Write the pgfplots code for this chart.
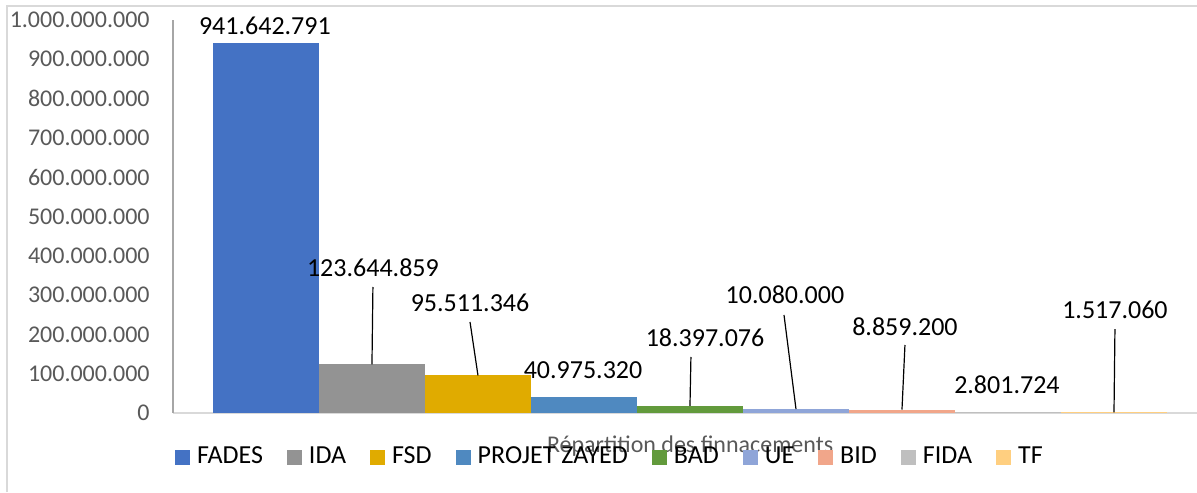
\documentclass[border=0pt]{standalone}
\usepackage{fontspec}
\setmainfont{Carlito}
\usepackage{pgfplots}
\pgfplotsset{compat=1.18}

\definecolor{cFADES}{HTML}{4472C4}
\definecolor{cIDA}{HTML}{939393}
\definecolor{cFSD}{HTML}{E0AB00}
\definecolor{cPZ}{HTML}{4F89C0}
\definecolor{cBAD}{HTML}{629A3C}
\definecolor{cUE}{HTML}{8FA5D8}
\definecolor{cBID}{HTML}{F1A68A}
\definecolor{cFIDA}{HTML}{BFBFBF}
\definecolor{cTF}{HTML}{FFCF80}
\definecolor{txtgrey}{HTML}{595959}
\definecolor{linegrey}{HTML}{D9D9D9}
\definecolor{axgrey}{HTML}{A6A6A6}

% data label and its leader line, in axis units
\newcommand{\lbl}[3]{\node[font=\fontsize{13}{15}\selectfont, anchor=center, inner sep=0pt] at (axis cs:#1,#2) {#3};}
\newcommand{\lead}[4]{\draw[black, line width=0.6pt] (axis cs:#1,#2) -- (axis cs:#3,#4);}

\begin{document}
\begin{tikzpicture}
\useasboundingbox (0,0) rectangle (598.5pt,246pt);
\begin{axis}[
    clip=false,
    at={(86.5pt,39.5pt)}, anchor=south west,
    scale only axis, width=512pt, height=196.5pt,
    xmin=-0.877, xmax=8.783, ymin=0, ymax=1000000000,
    ybar, bar shift=0pt, bar width=1,
    axis x line*=bottom, axis y line*=left,
    x axis line style={linegrey, line width=1pt, -},
    y axis line style={axgrey, line width=0.6pt, -},
    xtick=\empty,
    ytick distance=100000000,
    major tick length=0pt,
    scaled y ticks=false,
    yticklabel style={text=txtgrey, font=\fontsize{12}{14}\selectfont, inner sep=0pt, xshift=-11.5pt,
        /pgf/number format/.cd, fixed, precision=0, 1000 sep={.}, assume math mode=true},
    xlabel={Répartition des finnacements},
    xlabel style={at={(axis description cs:0.505,-0.084)}, anchor=center, text=txtgrey,
        font=\fontsize{12}{14}\selectfont, inner sep=0pt},
    legend columns=9,
    legend image code/.code={\fill[#1, draw=none] (0pt,-3.75pt) rectangle (7.5pt,3.75pt);},
    legend style={at={(axis description cs:0.002,-0.112)}, anchor=west, draw=none, fill=none,
        inner sep=0pt, outer sep=0pt, font=\fontsize{13}{15}\selectfont,
        nodes={inner sep=0pt}, column sep=3.5pt,
        /tikz/every even column/.append style={column sep=12pt}},
]
\addplot[fill=cFADES, draw=none] coordinates {(0,941642791)};
\addplot[fill=cIDA, draw=none] coordinates {(1,123644859)};
\addplot[fill=cFSD, draw=none] coordinates {(2,95511346)};
\addplot[fill=cPZ, draw=none] coordinates {(3,40975320)};
\addplot[fill=cBAD, draw=none] coordinates {(4,18397076)};
\addplot[fill=cUE, draw=none] coordinates {(5,10080000)};
\addplot[fill=cBID, draw=none] coordinates {(6,8859200)};
\addplot[fill=cFIDA, draw=none] coordinates {(7,2801724)};
\addplot[fill=cTF, draw=none] coordinates {(8,1517060)};
\legend{FADES, IDA, FSD, PROJET ZAYED, BAD, UE, BID, FIDA, TF}

\lbl{-0.01}{984700000}{941.642.791}
\lbl{1.009}{369000000}{123.644.859}
\lead{1.009}{320600000}{1}{123644859}
\lbl{1.925}{279900000}{95.511.346}
\lead{1.925}{231600000}{2}{95511346}
\lbl{2.991}{109400000}{40.975.320}
\lbl{4.142}{190800000}{18.397.076}
\lead{4.009}{142500000}{4}{18397076}
\lbl{4.896}{300300000}{10.080.000}
\lead{4.887}{249400000}{5}{10080000}
\lbl{6.028}{218800000}{8.859.200}
\lead{6.028}{173000000}{6}{8859200}
\lbl{6.99}{71200000}{2.801.724}
\lbl{8.009}{262100000}{1.517.060}
\lead{8.009}{213700000}{8}{1517060}
\end{axis}
% chart area frame, cut by the image edges
\draw[linegrey, line width=1pt] (3.5pt,0pt) -- (3.5pt,243pt) -- (598.5pt,243pt);
\end{tikzpicture}
\end{document}
